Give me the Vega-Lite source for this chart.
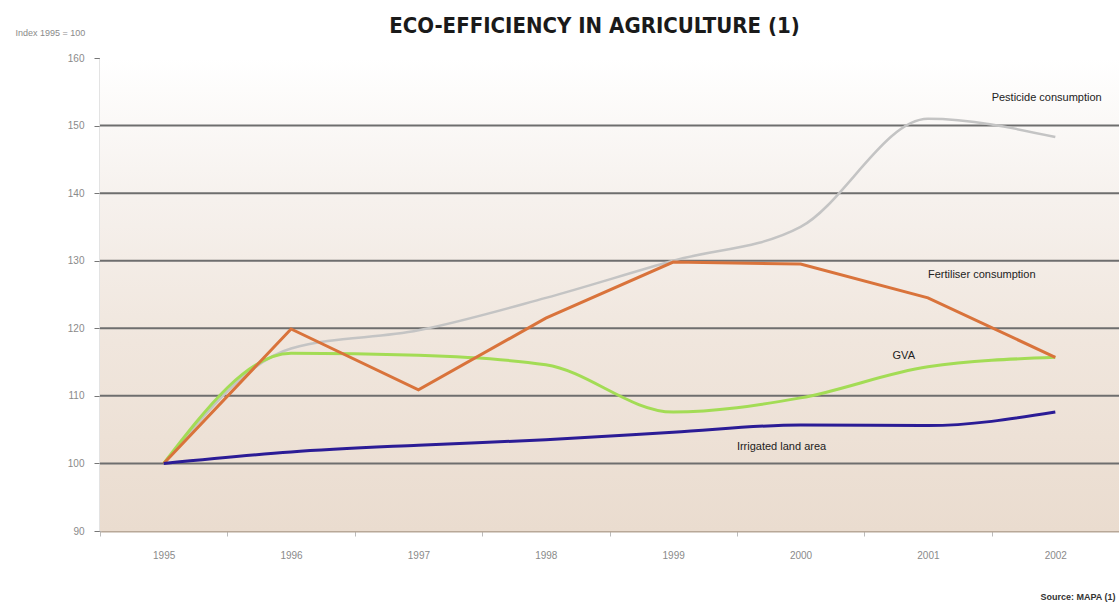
{
  "$schema": "https://vega.github.io/schema/vega-lite/v6.json",
  "width": 1019,
  "height": 473,
  "autosize": {"type": "none"},
  "padding": {"left": 100, "top": 58, "right": 0, "bottom": 74},
  "background": "#ffffff",
  "config": {"view": {"stroke": "#cfcfcf", "strokeWidth": 1}},
  "title": {
    "text": "ECO-EFFICIENCY IN AGRICULTURE (1)",
    "font": "DejaVu Sans Condensed",
    "fontSize": 22,
    "fontWeight": "bold",
    "color": "#1a1a1a",
    "anchor": "middle",
    "frame": "group",
    "dx": -15,
    "offset": -32,
    "baseline": "bottom"
  },
  "datasets": {
    "series": [
      {"year": "1995", "series": "Pesticide consumption", "value": 100},
      {"year": "1996", "series": "Pesticide consumption", "value": 117},
      {"year": "1997", "series": "Pesticide consumption", "value": 119.7},
      {"year": "1998", "series": "Pesticide consumption", "value": 124.5},
      {"year": "1999", "series": "Pesticide consumption", "value": 130},
      {"year": "2000", "series": "Pesticide consumption", "value": 135},
      {"year": "2001", "series": "Pesticide consumption", "value": 151},
      {"year": "2002", "series": "Pesticide consumption", "value": 148.3},
      {"year": "1995", "series": "GVA", "value": 100},
      {"year": "1996", "series": "GVA", "value": 116.3},
      {"year": "1997", "series": "GVA", "value": 116},
      {"year": "1998", "series": "GVA", "value": 114.6},
      {"year": "1999", "series": "GVA", "value": 107.6},
      {"year": "2000", "series": "GVA", "value": 109.7},
      {"year": "2001", "series": "GVA", "value": 114.3},
      {"year": "2002", "series": "GVA", "value": 115.7},
      {"year": "1995", "series": "Fertiliser consumption", "value": 100},
      {"year": "1996", "series": "Fertiliser consumption", "value": 119.9},
      {"year": "1997", "series": "Fertiliser consumption", "value": 110.9},
      {"year": "1998", "series": "Fertiliser consumption", "value": 121.5},
      {"year": "1999", "series": "Fertiliser consumption", "value": 129.8},
      {"year": "2000", "series": "Fertiliser consumption", "value": 129.5},
      {"year": "2001", "series": "Fertiliser consumption", "value": 124.5},
      {"year": "2002", "series": "Fertiliser consumption", "value": 115.7},
      {"year": "1995", "series": "Irrigated land area", "value": 100},
      {"year": "1996", "series": "Irrigated land area", "value": 101.7},
      {"year": "1997", "series": "Irrigated land area", "value": 102.7},
      {"year": "1998", "series": "Irrigated land area", "value": 103.5},
      {"year": "1999", "series": "Irrigated land area", "value": 104.6},
      {"year": "2000", "series": "Irrigated land area", "value": 105.7},
      {"year": "2001", "series": "Irrigated land area", "value": 105.6},
      {"year": "2002", "series": "Irrigated land area", "value": 107.6}
    ],
    "labels": [
      {"year": "2001", "value": 154.1, "label": "Pesticide consumption", "shift": -11},
      {"year": "2001", "value": 127.9, "label": "Fertiliser consumption", "shift": -38},
      {"year": "2001", "value": 115.9, "label": "GVA", "shift": -53},
      {"year": "2000", "value": 102.4, "label": "Irrigated land area", "shift": -65}
    ],
    "band": [{"lo": 90, "hi": 160}],
    "grid": [{"g": 100}, {"g": 110}, {"g": 120}, {"g": 130}, {"g": 140}, {"g": 150}]
  },
  "encoding": {
    "x": {
      "field": "year",
      "type": "ordinal",
      "scale": {"domain": ["1995", "1996", "1997", "1998", "1999", "2000", "2001", "2002"], "paddingInner": 0, "paddingOuter": 0},
      "axis": {
        "title": "Source: MAPA (1)",
        "titleFont": "Liberation Sans",
        "titleFontSize": 9,
        "titleFontWeight": "bold",
        "titleColor": "#333333",
        "titleAnchor": "end",
        "titleAlign": "right",
        "titleBaseline": "middle",
        "titleX": 1015,
        "titleY": 65,
        "labelAngle": 0,
        "labelFont": "Liberation Sans",
        "labelFontSize": 10,
        "labelColor": "#8a8a8a",
        "labelPadding": 14,
        "domainColor": "#b8a898",
        "domainWidth": 2,
        "ticks": true,
        "tickBand": "extent",
        "tickColor": "#bbbbbb",
        "tickSize": 5,
        "grid": false
      }
    },
    "y": {
      "field": "value",
      "type": "quantitative",
      "scale": {"domain": [90, 160], "nice": false, "zero": false},
      "axis": {
        "title": "Index 1995 = 100",
        "titleAngle": 0,
        "titleAlign": "left",
        "titleBaseline": "middle",
        "titleX": -85,
        "titleY": -26,
        "titleFont": "Liberation Sans",
        "titleFontSize": 9,
        "titleFontWeight": "normal",
        "titleColor": "#8a8a8a",
        "values": [90, 100, 110, 120, 130, 140, 150, 160],
        "labelFont": "Liberation Sans",
        "labelFontSize": 10,
        "labelColor": "#8a8a8a",
        "labelPadding": 10,
        "domainColor": "#c8c8c8",
        "domainWidth": 2,
        "tickColor": "#777777",
        "tickSize": 6,
        "grid": false
      }
    }
  },
  "layer": [
    {
      "data": {"name": "band"},
      "mark": {
        "type": "rect",
        "color": {
          "gradient": "linear",
          "x1": 0, "y1": 0, "x2": 0, "y2": 1,
          "stops": [
            {"offset": 0, "color": "#ffffff"},
            {"offset": 0.3, "color": "#f6f1ed"},
            {"offset": 0.6, "color": "#f0e6dd"},
            {"offset": 1, "color": "#eadccf"}
          ]
        }
      },
      "encoding": {
        "x": null,
        "y": {"field": "lo", "type": "quantitative"},
        "y2": {"field": "hi"}
      }
    },
    {
      "data": {"name": "grid"},
      "mark": {"type": "rule", "color": "#6e6e6e", "strokeWidth": 2},
      "encoding": {
        "x": null,
        "y": {"field": "g", "type": "quantitative"}
      }
    },
    {
      "data": {"name": "series"},
      "transform": [{"filter": "datum.series === 'Pesticide consumption'"}],
      "mark": {"type": "line", "interpolate": "monotone", "color": "#c4c4c4", "strokeWidth": 2.5}
    },
    {
      "data": {"name": "series"},
      "transform": [{"filter": "datum.series === 'GVA'"}],
      "mark": {"type": "line", "interpolate": "monotone", "color": "#a3dc55", "strokeWidth": 3}
    },
    {
      "data": {"name": "series"},
      "transform": [{"filter": "datum.series === 'Fertiliser consumption'"}],
      "mark": {"type": "line", "interpolate": "linear", "color": "#d9733b", "strokeWidth": 3}
    },
    {
      "data": {"name": "series"},
      "transform": [{"filter": "datum.series === 'Irrigated land area'"}],
      "mark": {"type": "line", "interpolate": "monotone", "color": "#2b1c96", "strokeWidth": 3}
    },
    {
      "data": {"name": "labels"},
      "mark": {"type": "text", "align": "left", "baseline": "middle", "font": "Liberation Sans", "fontSize": 11, "color": "#222222"},
      "encoding": {
        "text": {"field": "label"},
        "xOffset": {"field": "shift", "type": "quantitative", "scale": {"type": "identity"}}
      }
    }
  ]
}
